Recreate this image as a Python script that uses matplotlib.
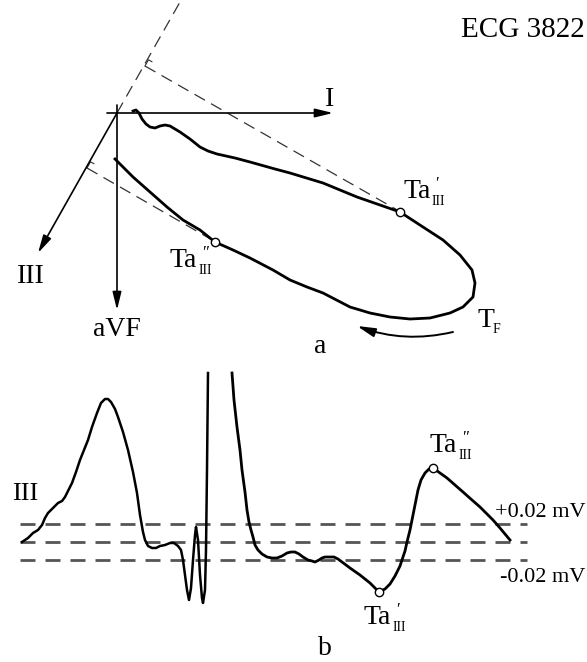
import matplotlib.pyplot as plt

plt.rcParams['font.family'] = ['Liberation Serif', 'DejaVu Serif']

# panel a: vector loop (pixel coordinates, y down)
loop_x = [133, 136, 139, 142, 146, 150, 155, 160, 165, 170, 175, 180, 190, 200, 208, 217,
          235, 250, 275, 290, 323, 357, 380, 400, 423, 443, 460, 472, 475, 473, 463, 450,
          430, 410, 390, 370, 350, 323, 307, 290, 273, 250, 233, 215, 200, 183, 167, 150,
          133, 115]
loop_y = [111, 110, 113, 119, 124, 127, 128, 126, 125, 126, 129, 132, 139, 147, 151, 154,
          158, 162, 169, 173, 183, 197, 205, 212, 227, 240, 255, 270, 283, 297, 307, 313,
          318, 319, 317, 313, 307, 293, 287, 280, 270, 258, 250, 242, 230, 220, 207, 192,
          177, 159]

# lead axes of panel a
origin = (117, 113)
lead_I = (333, 113)
lead_aVF = (117, 310)
lead_III = (38, 253)
III_ext = (180, 2)
proj_upper = [(145, 66), (399, 211)]
proj_lower = [(87, 168), (214, 241)]
ta_loop = [(400, 212), (215, 242)]

# panel b: lead III trace
trace1_x = [22, 28, 33, 38, 42, 45, 48, 53, 58, 62, 65, 68, 72, 76, 80, 84, 88, 92, 97,
            101, 105, 108, 111, 115, 118, 123, 128, 133, 137, 140, 143, 145, 148, 152,
            156, 160, 165, 170, 174, 178, 181, 183, 185, 187, 189, 191, 193, 195, 196,
            198, 200, 202, 203, 205, 206, 207, 208]
trace1_y = [542, 538, 533, 530, 525, 518, 513, 508, 503, 501, 497, 491, 483, 472, 460,
            450, 440, 427, 413, 403, 399, 399, 402, 409, 417, 432, 450, 472, 493, 515,
            532, 540, 546, 548, 548, 546, 545, 543, 543, 546, 550, 560, 575, 590, 600,
            588, 560, 535, 527, 540, 575, 598, 603, 590, 550, 470, 373]
trace2_x = [232, 234, 237, 240, 242, 245, 247, 249, 251, 253, 255, 258, 262, 267, 272,
            277, 282, 287, 291, 295, 299, 303, 308, 312, 315, 319, 322, 325, 330, 334,
            338, 342, 350, 360, 370, 379, 385, 390, 395, 400, 402, 405, 407, 410, 412,
            415, 418, 421, 425, 429, 433, 440, 447, 455, 463, 472, 480, 487, 493, 500,
            505, 510]
trace2_y = [373, 400, 427, 450, 470, 492, 510, 522, 530, 537, 545, 550, 554, 557, 558,
            558, 556, 553, 552, 552, 554, 557, 560, 561, 562, 560, 558, 557, 557, 557,
            559, 562, 568, 575, 583, 592, 589, 584, 576, 566, 560, 551, 542, 530, 520,
            505, 490, 480, 473, 469, 468, 473, 478, 485, 492, 500, 507, 514, 520, 528,
            534, 540]
ta_trace = [(379, 592), (433, 468)]
level_y = [524, 542, 560]

fig = plt.figure(figsize=(5.87, 6.62), dpi=100)
ax = fig.add_axes([0, 0, 1, 1])
ax.set_xlim(0, 587)
ax.set_ylim(662, 0)
ax.axis('off')

arrow = dict(arrowstyle='-|>,head_length=0.9,head_width=0.22', lw=1.2, color='k',
             shrinkA=0, shrinkB=0, mutation_scale=12)

# axes of panel a
ax.annotate('', xy=lead_I, xytext=(107, 113), arrowprops=arrow)
ax.annotate('', xy=lead_aVF, xytext=(117, 105), arrowprops=arrow)
ax.annotate('', xy=lead_III, xytext=origin, arrowprops=arrow)
dash_a = dict(color='#333333', lw=0.9, dashes=(9.6, 5.6))
ax.plot([origin[0], III_ext[0]], [origin[1], III_ext[1]], **dash_a)
for seg in (proj_upper, proj_lower):
    ax.plot([p[0] for p in seg], [p[1] for p in seg], **dash_a)
    # small right-angle tick at the foot
    fx, fy = seg[0]
    ax.plot([fx, fx + 3.5, fx + 3.5 + 3.4], [fy, fy - 6.2, fy - 4.3], color='#333333', lw=0.8)

ax.plot(loop_x, loop_y, color='k', lw=2.0, solid_joinstyle='round')
ax.plot([p[0] for p in ta_loop], [p[1] for p in ta_loop], 'o', ms=6, mfc='white',
        mec='k', mew=1.0)
ax.annotate('', xy=(357, 326), xytext=(453, 332),
            arrowprops=dict(arrow, lw=1.4, connectionstyle='arc3,rad=-0.15'))

# panel b
for y in level_y:
    ax.plot([20, 527], [y, y], color='#555555', lw=2.0, dashes=(5.4, 3.6))
ax.plot(trace1_x, trace1_y, color='k', lw=1.8, solid_joinstyle='round')
ax.plot(trace2_x, trace2_y, color='k', lw=2.0, solid_joinstyle='round')
ax.plot([p[0] for p in ta_trace], [p[1] for p in ta_trace], 'o', ms=6, mfc='white',
        mec='k', mew=1.0)


def ta_label(x, y, prime):
    ax.text(x, y, 'Ta', fontsize=20, va='baseline', ha='left')
    ax.text(x + 29, y + 7, 'III', fontsize=10, va='baseline', ha='left')
    ax.text(x + 32, y - 10, prime, fontsize=12, va='baseline', ha='left')


ta_label(403, 198, '′')
ta_label(170, 267, '″')
ta_label(430, 452, '″')
ta_label(364, 624, '′')

ax.text(585, 37, 'ECG 3822', fontsize=21, ha='right', va='baseline')
ax.text(330, 106, 'I', fontsize=20, ha='center', va='baseline')
ax.text(31, 283, 'III', fontsize=20, ha='center', va='baseline')
ax.text(117, 336, 'aVF', fontsize=20, ha='center', va='baseline')
ax.text(477, 327, 'T', fontsize=20, ha='left', va='baseline')
ax.text(493, 333, 'F', fontsize=10, ha='left', va='baseline')
ax.text(320, 353, 'a', fontsize=20, ha='center', va='baseline')
ax.text(25, 500, 'III', fontsize=19, ha='center', va='baseline')
ax.text(495, 517, '+0.02 mV', fontsize=16, ha='left', va='baseline')
ax.text(500, 582, '-0.02 mV', fontsize=16, ha='left', va='baseline')
ax.text(325, 655, 'b', fontsize=20, ha='center', va='baseline')

fig.savefig('out.png', dpi=100)
